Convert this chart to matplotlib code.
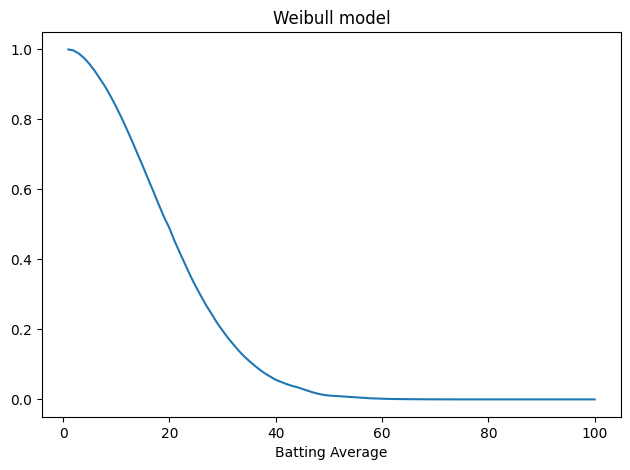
import numpy as np
import matplotlib
matplotlib.use("Agg")
import matplotlib.pyplot as plt

# batting average values 1..100
batting_avg = np.arange(1, 101)

# survival values
survival = [
    1.000, 0.997, 0.988, 0.975, 0.958, 0.938, 0.915, 0.892, 0.865, 0.836,
    0.805, 0.772, 0.738, 0.702, 0.667, 0.630, 0.594, 0.557, 0.521, 0.490,
    0.452, 0.418, 0.385, 0.352, 0.322, 0.294, 0.267, 0.243, 0.218, 0.197,
    0.176, 0.158, 0.140, 0.124, 0.110, 0.097, 0.085, 0.074, 0.065, 0.056,
    0.050, 0.044, 0.039, 0.035, 0.030, 0.025, 0.020, 0.016, 0.013, 0.011,
    0.010, 0.009, 0.008, 0.007, 0.006, 0.005, 0.004, 0.003, 0.0025, 0.002,
    0.0015, 0.0012, 0.001, 0.0008, 0.0006, 0.0005, 0.0004, 0.0003, 0.0002, 0.0002,
    0.0001, 0.0001, 0.0001, 0.0, 0.0, 0.0, 0.0, 0.0, 0.0, 0.0,
    0.0, 0.0, 0.0, 0.0, 0.0, 0.0, 0.0, 0.0, 0.0, 0.0,
    0.0, 0.0, 0.0, 0.0, 0.0, 0.0, 0.0, 0.0, 0.0, 0.0,
]

fig, ax = plt.subplots(figsize=(6.3, 4.7), dpi=100)
ax.plot(batting_avg, survival)
ax.set_title("Weibull model")
ax.set_xlabel("Batting Average")
fig.subplots_adjust(left=0.0667, right=0.9857, top=0.932, bottom=0.113)
fig.savefig("out.png")
